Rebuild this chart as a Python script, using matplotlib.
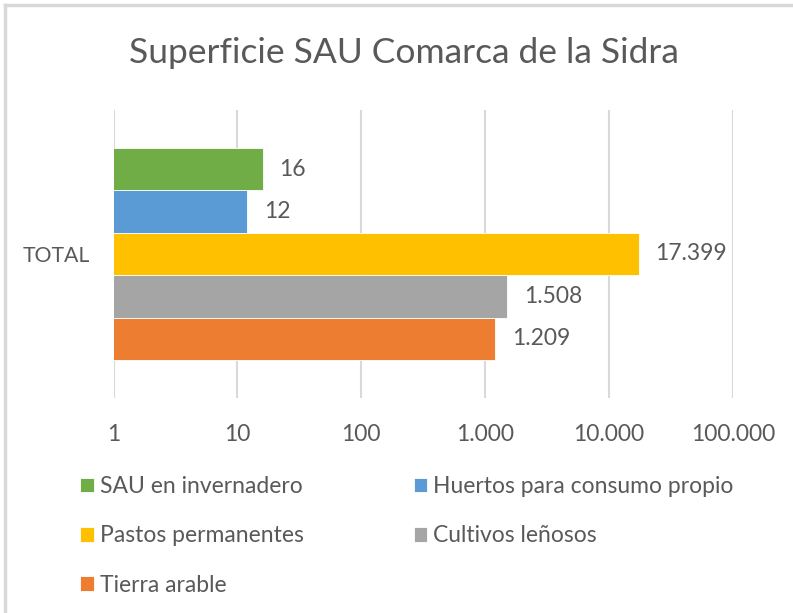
import matplotlib.pyplot as plt
from matplotlib.ticker import FuncFormatter, NullLocator, FixedLocator
from matplotlib.lines import Line2D

# Data (bottom to top, as drawn)
group = ["TOTAL"]
series = ["Tierra arable", "Cultivos leñosos", "Pastos permanentes",
          "Huertos para consumo propio", "SAU en invernadero"]
values = [1209, 1508, 17399, 12, 16]
colors = ["#ED7D31", "#A5A5A5", "#FFC000", "#5B9BD5", "#70AD47"]
x_ticks = [1, 10, 100, 1000, 10000, 100000]

plt.rcParams['font.family'] = ['Lato', 'DejaVu Sans']
txt = "#595959"
fs = 16.5


def es_num(v, pos=None):
    return f"{int(round(v)):,}".replace(",", ".")


fig = plt.figure(figsize=(7.93, 6.13), dpi=100)
ax = fig.add_axes([113.5 / 793, 1 - 398 / 613, (733 - 113.5) / 793, 288 / 613])

ax.set_xscale('log')
bars = []
for i, (name, v, c) in enumerate(zip(series, values, colors)):
    b = ax.barh(i, v, height=1.0, color=c, edgecolor='white', linewidth=0.6,
                label=name, zorder=3)
    bars.append(b)
    ax.bar_label(b, labels=[es_num(v)], padding=12, fontsize=fs, color=txt)

ax.set_xlim(x_ticks[0], x_ticks[-1])
ax.set_ylim(2 - 3.396, 2 + 3.396)
ax.xaxis.set_major_locator(FixedLocator(x_ticks))
ax.xaxis.set_minor_locator(NullLocator())
ax.xaxis.set_major_formatter(FuncFormatter(es_num))
ax.set_yticks([2])
ax.set_yticklabels(group)
ax.tick_params(axis='x', length=0, pad=19, labelsize=fs, labelcolor=txt)
ax.tick_params(axis='y', length=0, pad=17, labelsize=15.3, labelcolor=txt)
ax.grid(axis='x', color='#D9D9D9', linewidth=1.5, zorder=0)
for s in ax.spines.values():
    s.set_visible(False)

fig.text(404 / 793, 1 - 53 / 613, "Superficie SAU Comarca de la Sidra",
         ha='center', va='center', fontsize=25.5, color=txt)

# Legend: column-wise fill
order = [4, 2, 0, 3, 1]
handles = [bars[i] for i in order]
labels = [series[i] for i in order]
fig.legend(handles, labels, ncol=2, loc='upper left',
           bbox_to_anchor=(80 / 793, 1 - 476 / 613), frameon=False,
           fontsize=fs, labelcolor=txt, handlelength=0.6, handleheight=0.6,
           handletextpad=0.26, labelspacing=1.24, columnspacing=4.8,
           borderpad=0, borderaxespad=0)

# chart frame (top and left edges visible)
fig.add_artist(Line2D([5 / 793, 5 / 793], [0, 1 - 5 / 613], color='#D9D9D9', lw=2.5))
fig.add_artist(Line2D([5 / 793, 1], [1 - 5 / 613, 1 - 5 / 613], color='#D9D9D9', lw=2.5))

fig.savefig("out.png", dpi=100)
